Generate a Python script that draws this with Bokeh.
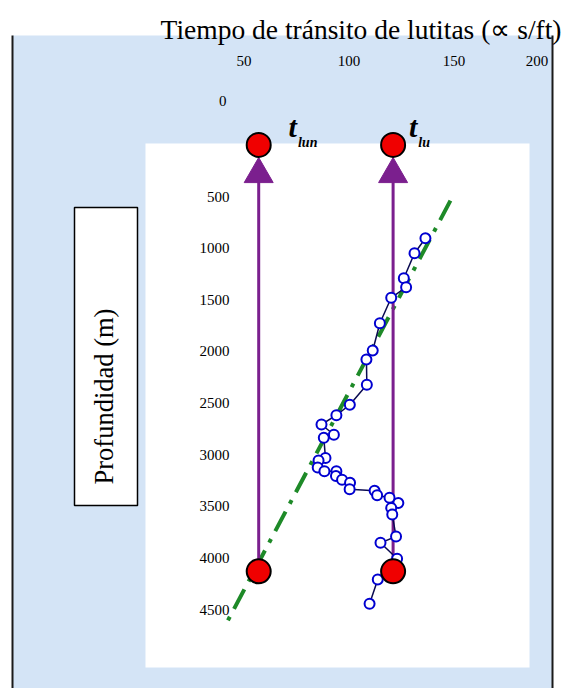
import numpy as np
from bokeh.plotting import figure
from bokeh.models import Range1d
from bokeh.core.properties import value
from bokeh.embed import file_html
from bokeh.resources import INLINE

# ---------------- data ----------------
depth_obs = [904, 1049, 1291, 1378, 1481, 1727, 1991, 2078, 2323, 2517, 2618, 2708,
             2807, 2837, 3032, 3057, 3124, 3160, 3160, 3207, 3243, 3272, 3336, 3350,
             3393, 3417, 3468, 3517, 3580, 3793, 3854, 4009, 4209, 4445]
tt_obs = [136.4, 131.2, 126.1, 127.2, 120.1, 114.7, 111.3, 108.3, 108.5, 100.4, 94.0, 86.9,
          92.8, 88.0, 88.8, 85.5, 85.1, 88.3, 94.0, 93.8, 96.7, 100.5, 100.3, 112.2,
          113.4, 119.3, 123.5, 120.1, 120.6, 122.4, 115.0, 122.9, 113.7, 109.8]
trend_tt = [148.3, 41.7]
trend_depth = [540, 4630]
t_names = ["lun", "lu"]
t_values = [57, 121]
t_top_depth = [0, 0]
t_bottom_depth = [4130, 4130]
x_ticks = [50, 100, 150, 200]
y_ticks = [0, 500, 1000, 1500, 2000, 2500, 3000, 3500, 4000, 4500]
title_text = "Tiempo de tránsito de lutitas (\u221d s/ft)"
ylabel_text = "Profundidad (m)"

# ---------------- layout helpers (page pixels -> data) ----------------
X0, XS, Y0, YS = 138.5, 2.1, 144.4, 0.10325
def xd(px):
    return (px - X0) / XS
def yd(py):
    return (py - Y0) / YS

W, H = 563, 688
SERIF = value("Liberation Serif")

p = figure(width=W, height=H, output_backend="svg", toolbar_location=None,
           x_axis_location=None, y_axis_location=None, min_border=0,
           x_range=Range1d(xd(0), xd(W)), y_range=Range1d(yd(H), yd(0)),
           background_fill_color="white", border_fill_color="white",
           outline_line_color=None)
p.grid.visible = False

# background panels
p.quad(left=[xd(12)], right=[xd(552)], top=[yd(35)], bottom=[yd(H + 2)],
       fill_color="#d4e4f6", line_color=None)
p.segment(x0=[xd(12), xd(552)], y0=[yd(35), yd(35)], x1=[xd(12), xd(552)], y1=[yd(H + 2), yd(H + 2)],
          line_color="#1a1a1a", line_width=2)
p.quad(left=[xd(145)], right=[xd(529)], top=[yd(143)], bottom=[yd(667)],
       fill_color="white", line_color=None)

# y label box
p.quad(left=[xd(74)], right=[xd(137)], top=[yd(207)], bottom=[yd(505)],
       fill_color="white", line_color="black", line_width=1.5)
p.text(x=[xd(103)], y=[yd(396)], text=[ylabel_text], angle=np.pi / 2,
       text_align="center", text_baseline="middle", text_font=SERIF,
       text_font_size="26.5px", text_color="black")

# title
p.text(x=[xd(561)], y=[yd(29)], text=[title_text], text_align="right",
       text_baseline="alphabetic", text_font=SERIF, text_font_size="27.5px",
       text_color="black")

# tick labels
p.text(x=x_ticks, y=[yd(60)] * len(x_ticks), text=[str(v) for v in x_ticks],
       x_offset=[-22 if v == 200 else 0 for v in x_ticks],
       text_align="center", text_baseline="middle", text_font=SERIF,
       text_font_size="15px", text_color="black")
p.text(x=[xd(229)] * len(y_ticks), y=y_ticks, text=[str(v) for v in y_ticks],
       x_offset=[-3 if v == 0 else 0 for v in y_ticks],
       y_offset=[-44 if v == 0 else 0 for v in y_ticks],
       text_align="right", text_baseline="middle", text_font=SERIF,
       text_font_size="15px", text_color="black")

# trend line
p.line(trend_tt, trend_depth, line_color="#1e8a28", line_width=4, line_dash="22 9 4 9")

# purple arrows
PURPLE = "#7b1f8e"
p.segment(x0=t_values, y0=t_bottom_depth, x1=t_values, y1=[284, 284],
          line_color=PURPLE, line_width=3)
p.scatter(t_values, [284, 284], marker="triangle", size=29,
          fill_color=PURPLE, line_color=PURPLE)

# observed data
p.line(tt_obs, depth_obs, line_color="#0a0a50", line_width=1.5)
p.scatter(tt_obs, depth_obs, marker="circle", size=10, fill_color="white",
          line_color="#0000d0", line_width=2)

# red circles
p.scatter(t_values + t_values, t_top_depth + t_bottom_depth, marker="circle", size=24,
          fill_color="#f00000", line_color="black", line_width=2)

# t labels
p.text(x=t_values, y=t_top_depth, text=["t", "t"], x_offset=[34, 20], y_offset=[-18, -18],
       text_align="center", text_baseline="alphabetic", text_font=SERIF,
       text_font_style="bold italic", text_font_size="30px", text_color="black")
p.text(x=t_values, y=t_top_depth, text=t_names, x_offset=[49, 31], y_offset=[-2, -2],
       text_align="center", text_baseline="alphabetic", text_font=SERIF,
       text_font_style="bold italic", text_font_size="14px", text_color="black")

open("out.html", "w").write(file_html(p, INLINE))
